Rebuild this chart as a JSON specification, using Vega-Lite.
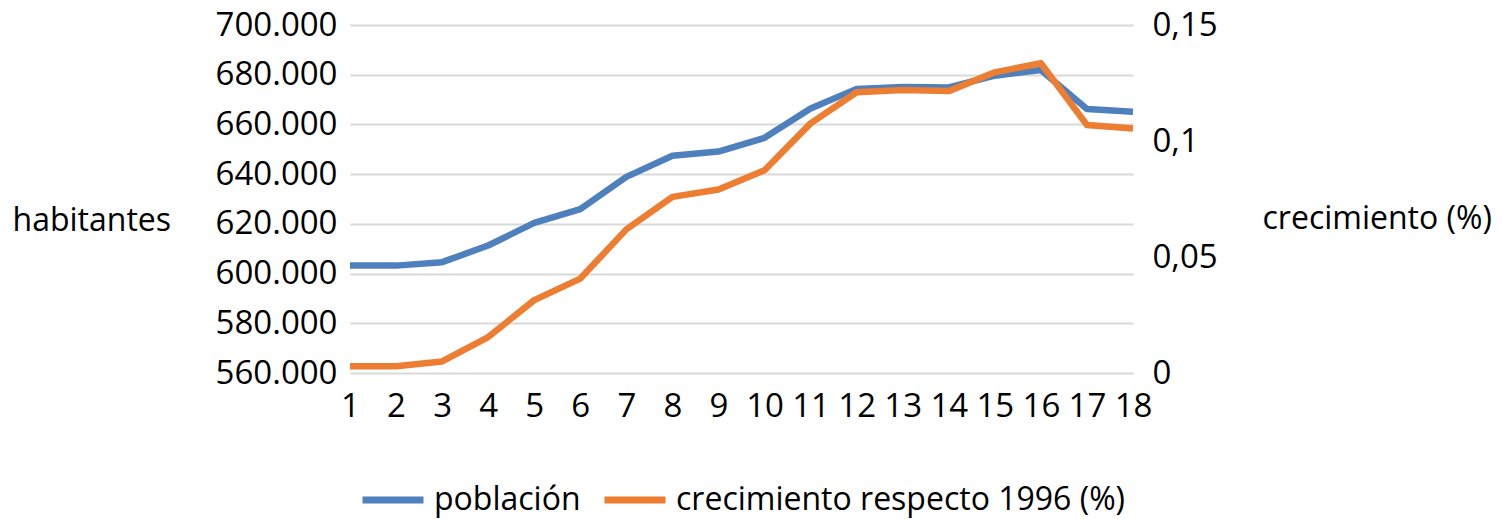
{
  "$schema": "https://vega.github.io/schema/vega-lite/v6.json",
  "autosize": {"type": "none"},
  "width": 783,
  "height": 348,
  "padding": {"left": 350, "top": 25, "right": 369, "bottom": 146},
  "background": "white",
  "config": {
    "view": {"stroke": null},
    "font": "Open Sans",
    "axis": {"labelFont": "Open Sans", "titleFont": "Open Sans", "labelColor": "#000000", "titleColor": "#000000", "titleFontWeight": "normal"},
    "legend": {"labelFont": "Open Sans"}
  },
  "data": {
    "values": [
      {"t": 1, "poblacion": 603200, "crecimiento": 0.0029},
      {"t": 2, "poblacion": 603200, "crecimiento": 0.0029},
      {"t": 3, "poblacion": 604600, "crecimiento": 0.0050},
      {"t": 4, "poblacion": 611300, "crecimiento": 0.0155},
      {"t": 5, "poblacion": 620400, "crecimiento": 0.0314},
      {"t": 6, "poblacion": 625900, "crecimiento": 0.0407},
      {"t": 7, "poblacion": 638900, "crecimiento": 0.0619},
      {"t": 8, "poblacion": 647400, "crecimiento": 0.0759},
      {"t": 9, "poblacion": 649100, "crecimiento": 0.0791},
      {"t": 10, "poblacion": 654600, "crecimiento": 0.0874},
      {"t": 11, "poblacion": 666400, "crecimiento": 0.1076},
      {"t": 12, "poblacion": 674300, "crecimiento": 0.1210},
      {"t": 13, "poblacion": 675100, "crecimiento": 0.1220},
      {"t": 14, "poblacion": 674900, "crecimiento": 0.1215},
      {"t": 15, "poblacion": 679600, "crecimiento": 0.1296},
      {"t": 16, "poblacion": 681900, "crecimiento": 0.1335},
      {"t": 17, "poblacion": 666200, "crecimiento": 0.1069},
      {"t": 18, "poblacion": 665100, "crecimiento": 0.1054}
    ]
  },
  "encoding": {
    "x": {
      "field": "t",
      "type": "quantitative",
      "scale": {"domain": [1, 18], "nice": false, "zero": false},
      "axis": {
        "values": [1,2,3,4,5,6,7,8,9,10,11,12,13,14,15,16,17,18],
        "format": "d",
        "grid": false,
        "domain": false,
        "ticks": false,
        "labelFontSize": 33,
        "labelPadding": 17,
        "labelFlush": false,
        "labelOverlap": false,
        "title": null
      }
    }
  },
  "layer": [
    {
      "mark": {"type": "line", "strokeWidth": 6.5, "strokeJoin": "round", "strokeCap": "butt"},
      "encoding": {
        "y": {
          "field": "poblacion",
          "type": "quantitative",
          "scale": {"domain": [560000, 700000], "nice": false, "zero": false},
          "axis": {
            "orient": "left",
            "values": [560000, 580000, 600000, 620000, 640000, 660000, 680000, 700000],
            "labelExpr": "replace(format(datum.value, ','), ',', '.')",
            "grid": true,
            "gridColor": "#D9D9D9",
            "gridWidth": 2,
            "domain": false,
            "ticks": false,
            "labelFontSize": 33,
            "labelPadding": 13,
            "title": "habitantes",
            "titleFontSize": 32,
            "titleAngle": 0,
            "titleAlign": "left",
            "titleBaseline": "middle",
            "titleX": -338,
            "titleY": 195
          }
        },
        "color": {
          "datum": "población",
          "scale": {"domain": ["población", "crecimiento respecto 1996 (%)"], "range": ["#4E80BE", "#ED7D31"]},
          "legend": {
            "orient": "none",
            "direction": "horizontal",
            "legendX": 9,
            "legendY": 441,
            "title": null,
            "symbolType": "stroke",
            "symbolSize": 3721,
            "symbolStrokeWidth": 7,
            "labelFontSize": 32,
            "labelLimit": 0,
            "labelOffset": 7,
            "columnPadding": 9,
            "padding": 0
          }
        }
      }
    },
    {
      "mark": {"type": "line", "strokeWidth": 6.5, "strokeJoin": "round", "strokeCap": "butt"},
      "encoding": {
        "y": {
          "field": "crecimiento",
          "type": "quantitative",
          "scale": {"domain": [0, 0.15], "nice": false},
          "axis": {
            "orient": "right",
            "values": [0, 0.05, 0.1, 0.15],
            "labelExpr": "replace(format(datum.value, '~g'), '.', ',')",
            "grid": false,
            "domain": false,
            "ticks": false,
            "labelFontSize": 33,
            "labelPadding": 19,
            "title": "crecimiento (%)",
            "titleFontSize": 32,
            "titleAngle": 0,
            "titleAlign": "left",
            "titleBaseline": "middle",
            "titleX": 129,
            "titleY": 193
          }
        },
        "color": {"datum": "crecimiento respecto 1996 (%)"}
      }
    }
  ],
  "resolve": {"scale": {"y": "independent"}}
}
